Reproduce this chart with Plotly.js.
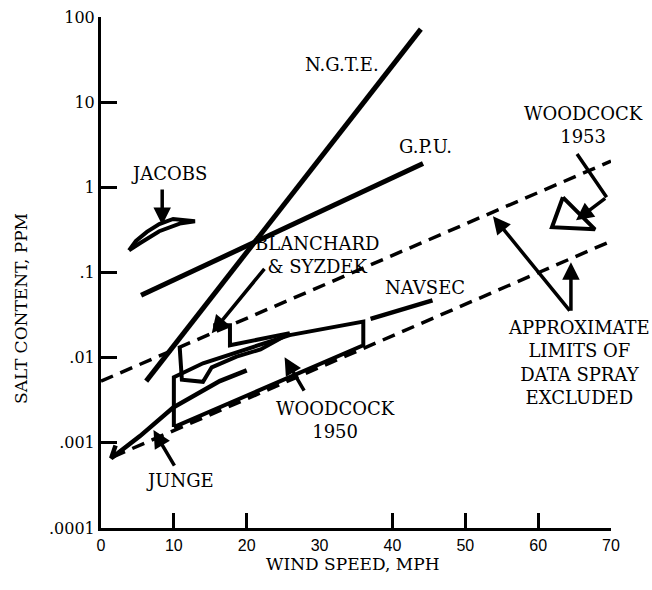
<!DOCTYPE html>
<html><head><meta charset="utf-8">
<script src="https://cdn.plot.ly/plotly-3.0.1.min.js"></script>
<style>html,body{margin:0;padding:0;background:#fff}</style>
</head><body>
<div id="chart" style="width:652px;height:590px"></div>
<script>
// ---- data (wind speed, mph ; salt content, ppm) ----
const ngteX = [6.2, 43.9];
const ngteY = [0.0053, 72];
const gpuX = [5.5, 44.2];
const gpuY = [0.054, 1.91];
const jacobsX = [3.84, 4.8, 6.3, 8.0, 9.9, 12.9, 10.8, 8.0, 5.5, 3.84];
const jacobsY = [0.182, 0.235, 0.300, 0.370, 0.425, 0.399, 0.375, 0.305, 0.225, 0.182];
const blanchardX = [15.4, 17.7, 17.7, 25.9, 21.9, 18.6, 15.2, 14.0, 11.1, 10.8];
const blanchardY = [0.024, 0.024, 0.014, 0.0194, 0.0125, 0.0103, 0.0077, 0.0052, 0.0055, 0.0133];
const woodcock50X = [10, 10, 14.0, 25.9, 36, 36, 10];
const woodcock50Y = [0.00153, 0.0059, 0.0086, 0.0184, 0.0265, 0.014, 0.00153];
const navsecX = [37, 45.5];
const navsecY = [0.0285, 0.047];
const jungeX = [2.0, 1.4, 5.35, 9.9, 16.3, 20.0];
const jungeY = [0.00093, 0.00066, 0.0012, 0.0026, 0.0053, 0.0071];
const woodcock53X = [63.4, 61.9, 67.8, 63.4];
const woodcock53Y = [0.764, 0.340, 0.321, 0.764];
const upperLimitX = [0, 70];
const upperLimitY = [0.0053, 2.03];
const lowerLimitX = [1.65, 70];
const lowerLimitY = [0.000685, 0.233];

const xTickVals = [0, 10, 20, 30, 40, 50, 60, 70];
const xTickMarks = [10, 20, 40, 50, 60, 70];
const yTickVals = [0.0001, 0.001, 0.01, 0.1, 1, 10, 100];
const yTickText = ['.0001', '.001', '.01', '.1', '1', '10', '100'];

const FONT = 'DejaVu Serif, Liberation Serif, serif';
const L = (v) => Math.log10(v);

function solid(x, y, w) {
  return {x: x, y: y, type: 'scatter', mode: 'lines', hoverinfo: 'skip', showlegend: false,
          line: {color: '#000', width: w || 4.5}};
}
function dashed(x, y) {
  return {x: x, y: y, type: 'scatter', mode: 'lines', hoverinfo: 'skip', showlegend: false,
          line: {color: '#000', width: 3.5, dash: '13px,8px'}};
}

const traces = [
  solid(ngteX, ngteY, 5),
  solid(gpuX, gpuY, 5),
  solid(jacobsX, jacobsY, 4),
  solid(blanchardX, blanchardY, 4),
  solid(woodcock50X, woodcock50Y, 4),
  solid(navsecX, navsecY, 4.5),
  solid(jungeX, jungeY, 4.5),
  solid(woodcock53X, woodcock53Y, 4),
  dashed(upperLimitX, upperLimitY),
  dashed(lowerLimitX, lowerLimitY),
  {x: [null], y: [null], xaxis: 'x2', type: 'scatter', mode: 'lines', hoverinfo: 'skip', showlegend: false}
];

function label(text, x, y) {
  return {text: text, x: x, y: L(y), xref: 'x', yref: 'y', showarrow: false,
          xanchor: 'center', yanchor: 'middle',
          font: {family: FONT, size: 18, color: '#000'}, align: 'center'};
}
function arrow(x0, y0, x1, y1, head) {
  return {text: '', x: x1, y: L(y1), ax: x0, ay: L(y0), xref: 'x', yref: 'y', axref: 'x', ayref: 'y',
          showarrow: true, arrowhead: head ? 2 : 0, arrowsize: 1, arrowwidth: 3.5, arrowcolor: '#000',
          standoff: 0, startstandoff: 0};
}

const annotations = [
  label('N.G.T.E.', 33.06, Math.pow(10, 1.443)),
  label('G.P.U.', 44.58, Math.pow(10, 0.481)),
  label('JACOBS', 9.33, Math.pow(10, 0.164)),
  label('BLANCHARD<br>&amp; SYZDEK', 29.6, Math.pow(10, -0.798)),
  label('NAVSEC', 44.44, Math.pow(10, -1.173)),
  label('WOODCOCK<br>1950', 32.2, Math.pow(10, -2.733)),
  label('JUNGE', 10.84, Math.pow(10, -3.437)),
  label('WOODCOCK<br>1953', 66.26, Math.pow(10, 0.733)),
  label('APPROXIMATE<br>LIMITS OF<br>DATA SPRAY<br>EXCLUDED', 65.57, Math.pow(10, -2.062)),
  arrow(8.4, 0.98, 8.4, 0.36, true),
  arrow(22.6, 0.115, 15.2, 0.0194, true),
  arrow(10.2, 0.00052, 7.2, 0.00141, true),
  arrow(28.0, 0.00394, 25.2, 0.0101, true),
  arrow(64.5, 0.0342, 53.8, 0.457, true),
  arrow(64.5, 0.0342, 64.5, 0.132, true),
  arrow(65.2, 2.57, 69.4, 0.764, false),
  arrow(69.4, 0.764, 65.2, 0.41, true),
  {text: 'WIND SPEED, MPH', xref: 'paper', yref: 'paper', x: 0.494, y: -0.0705, showarrow: false,
   xanchor: 'center', yanchor: 'middle', font: {family: FONT, size: 17, color: '#000'}},
  {text: 'SALT CONTENT, PPM', xref: 'paper', yref: 'paper', x: -0.157, y: 0.4305, showarrow: false,
   xanchor: 'center', yanchor: 'middle', textangle: -90, font: {family: FONT, size: 17, color: '#000'}}
];

const layout = {
  width: 652, height: 590,
  margin: {l: 101, r: 41, t: 17, b: 62, pad: 0},
  paper_bgcolor: '#fff', plot_bgcolor: '#fff',
  showlegend: false,
  xaxis: {range: [0, 70], showgrid: false, zeroline: false, showline: true, linewidth: 3, linecolor: '#000',
          tickmode: 'array', tickvals: xTickMarks, ticks: 'inside', ticklen: 15, tickwidth: 3, tickcolor: '#000',
          showticklabels: false, fixedrange: true},
  xaxis2: {range: [0, 70], overlaying: 'x', anchor: 'y', side: 'bottom', showgrid: false, zeroline: false,
           showline: false, tickmode: 'array', tickvals: xTickVals, ticks: '', ticklabelstandoff: 6,
           tickfont: {family: 'Liberation Sans, Arial, sans-serif', size: 16, color: '#000'}, fixedrange: true},
  yaxis: {type: 'log', range: [-4, 2], showgrid: false, zeroline: false, showline: true, linewidth: 3, linecolor: '#000',
          tickmode: 'array', tickvals: yTickVals, ticktext: yTickText, ticks: 'inside', ticklen: 16, tickwidth: 3,
          tickcolor: '#000', tickfont: {family: FONT, size: 16, color: '#000'}, fixedrange: true},
  annotations: annotations
};

Plotly.newPlot('chart', traces, layout, {staticPlot: true, displayModeBar: false});
</script>
</body></html>
